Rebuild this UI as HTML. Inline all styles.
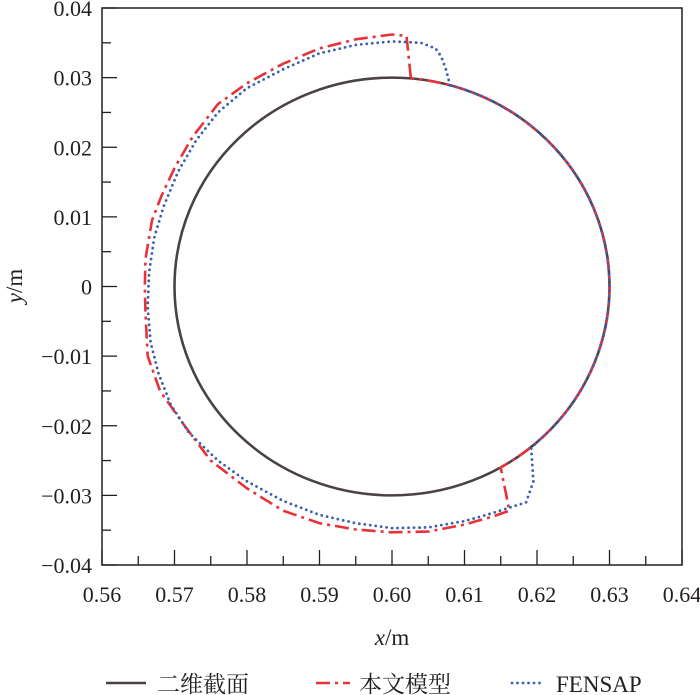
<!DOCTYPE html>
<html><head><meta charset="utf-8">
<style>
html,body{margin:0;padding:0;background:#fff;}
svg{display:block;}
text{font-family:"Liberation Serif","Noto Serif CJK SC",serif;fill:#231f20;}
</style></head>
<body>
<svg id="chart" width="700" height="695" viewBox="0 0 700 695" xmlns="http://www.w3.org/2000/svg">
<g id="axes" font-family="Liberation Serif, Noto Serif CJK SC, serif"></g>
<g id="series"></g>
<g id="legend" font-family="Liberation Serif, Noto Serif CJK SC, serif"></g>
</svg>
<script>
const xTicks=[0.56,0.57,0.58,0.59,0.60,0.61,0.62,0.63,0.64];
const xTickLabels=["0.56","0.57","0.58","0.59","0.60","0.61","0.62","0.63","0.64"];
const yTicks=[0.04,0.03,0.02,0.01,0,-0.01,-0.02,-0.03,-0.04];
const yTickLabels=["0.04","0.03","0.02","0.01","0","\u22120.01","\u22120.02","\u22120.03","\u22120.04"];
const circleCenter=[0.60,0];
const circleRadius=0.03;
const redX=[0.6026,0.6020,0.600,0.595,0.590,0.585,0.580,0.576,0.5725,0.5700,0.5682,0.5669,0.5660,0.5659,0.5660,0.5663,0.5680,0.5714,0.575,0.580,0.585,0.590,0.595,0.600,0.605,0.610,0.6140,0.6162,0.6150];
const redY=[0.0300,0.0360,0.0362,0.0355,0.0342,0.0320,0.0292,0.0262,0.0215,0.0170,0.0130,0.0095,0.0040,0.0000,-0.0040,-0.0100,-0.0150,-0.0200,-0.0250,-0.0290,-0.0322,-0.0340,-0.0349,-0.0353,-0.0352,-0.0342,-0.0330,-0.0322,-0.0260];
const redArc=[-60,85];
const blueX=[0.6080,0.6075,0.6068,0.6060,0.604,0.600,0.595,0.590,0.585,0.580,0.576,0.573,0.5705,0.5685,0.5672,0.5665,0.5663,0.5667,0.5678,0.5695,0.572,0.576,0.580,0.585,0.590,0.595,0.600,0.605,0.610,0.614,0.6185,0.6195,0.6192];
const blueY=[0.0289,0.0310,0.0330,0.0342,0.0350,0.0352,0.0347,0.0335,0.0312,0.0285,0.0250,0.0210,0.0165,0.0115,0.0070,0.0020,-0.0030,-0.0080,-0.0125,-0.0170,-0.0210,-0.0250,-0.0280,-0.0308,-0.0328,-0.0340,-0.0347,-0.0346,-0.0337,-0.0325,-0.0310,-0.0280,-0.0232];
const blueArc=[-50.6,74.5];
const legendLabels=["二维截面","本文模型","FENSAP"];

const X0=102,X1=682,Y0=565,Y1=8;
const sx=v=>X0+(v-0.56)/0.08*(X1-X0);
const sy=v=>Y0-(v+0.04)/0.08*(Y0-Y1);
const NS="http://www.w3.org/2000/svg";
function mk(tag,attrs,parent){const e=document.createElementNS(NS,tag);for(const k in attrs)e.setAttribute(k,attrs[k]);parent.appendChild(e);return e;}
const axes=document.getElementById('axes'),series=document.getElementById('series'),legend=document.getElementById('legend');

const frame=mk('rect',{x:X0,y:Y1,width:X1-X0,height:Y0-Y1,fill:'none',stroke:'#231f20','stroke-width':1.5},axes);


xTicks.forEach((t,i)=>{
  const x=sx(t);
  const tk=mk('line',{x1:x,x2:x,y1:Y0,y2:Y0-15,stroke:'#231f20','stroke-width':1.3},axes);
  
  
  if(i<xTicks.length-1){const xm=sx(t+0.005);const m=mk('line',{x1:xm,x2:xm,y1:Y0,y2:Y0-9,stroke:'#231f20','stroke-width':1.3},axes);
    
    }
  const lb=mk('text',{x:x,y:Y0+37,'text-anchor':'middle','font-size':22},axes);lb.textContent=xTickLabels[i];
  
  
});
yTicks.forEach((t,i)=>{
  const y=sy(t);
  const tk=mk('line',{x1:X0,x2:X0+15,y1:y,y2:y,stroke:'#231f20','stroke-width':1.3},axes);
  
  
  if(i<yTicks.length-1){const ym=sy(t-0.005);const m=mk('line',{x1:X0,x2:X0+9,y1:ym,y2:ym,stroke:'#231f20','stroke-width':1.3},axes);
    
    }
  const lb=mk('text',{x:X0-10,y:y+8,'text-anchor':'end','font-size':22},axes);lb.textContent=yTickLabels[i];
  
  
});
const xt=mk('text',{x:392,y:645,'text-anchor':'middle','font-size':23},axes);
xt.innerHTML='<tspan font-style="italic">x</tspan>/m';


const yt=mk('text',{x:0,y:0,'text-anchor':'middle','font-size':23,transform:'translate(22,286) rotate(-90)'},axes);
yt.innerHTML='<tspan font-style="italic">y</tspan>/m';



function arcPts(a0,a1){const p=[];const n=60;for(let k=0;k<=n;k++){const a=(a0+(a1-a0)*k/n)*Math.PI/180;p.push([sx(circleCenter[0]+circleRadius*Math.cos(a)),sy(circleCenter[1]+circleRadius*Math.sin(a))]);}return p;}
function ptsStr(p){return p.map(q=>q[0].toFixed(1)+','+q[1].toFixed(1)).join(' ');}

const circ=mk('ellipse',{cx:sx(circleCenter[0]),cy:sy(circleCenter[1]),rx:sx(circleCenter[0]+circleRadius)-sx(circleCenter[0]),ry:sy(circleCenter[1])-sy(circleCenter[1]+circleRadius),fill:'none',stroke:'#4a4244','stroke-width':2.6},series);



let rp=redX.map((x,i)=>[sx(x),sy(redY[i])]).concat(arcPts(redArc[0],redArc[1]).slice(1));
const red=mk('polyline',{points:ptsStr(rp),fill:'none',stroke:'#e8323a','stroke-width':2.6,'stroke-dasharray':'14 5 3 5','stroke-linejoin':'round'},series);


let bp=blueX.map((x,i)=>[sx(x),sy(blueY[i])]).concat(arcPts(blueArc[0],blueArc[1]).slice(1));
const blue=mk('polyline',{points:ptsStr(bp),fill:'none',stroke:'#3a5fb0','stroke-width':2.8,'stroke-dasharray':'0 5.5','stroke-linecap':'round'},series);



const ly=683;
const l1=mk('line',{x1:106,x2:146,y1:ly,y2:ly,stroke:'#4a4244','stroke-width':2.6},legend);


const l2=mk('line',{x1:316,x2:350,y1:ly,y2:ly,stroke:'#e8323a','stroke-width':2.6,'stroke-dasharray':'14 5 3 5'},legend);


const l3=mk('line',{x1:512,x2:544,y1:ly,y2:ly,stroke:'#3a5fb0','stroke-width':2.8,'stroke-dasharray':'0 5.5','stroke-linecap':'round'},legend);


[[157,legendLabels[0],'legend-label-2d'],[359,legendLabels[1],'legend-label-model'],[556,legendLabels[2],'legend-label-fensap']].forEach(d=>{
  const t=mk('text',{x:d[0],y:ly+9,'font-size':23},legend);t.textContent=d[1];
  
  
});
</script>
</body></html>
